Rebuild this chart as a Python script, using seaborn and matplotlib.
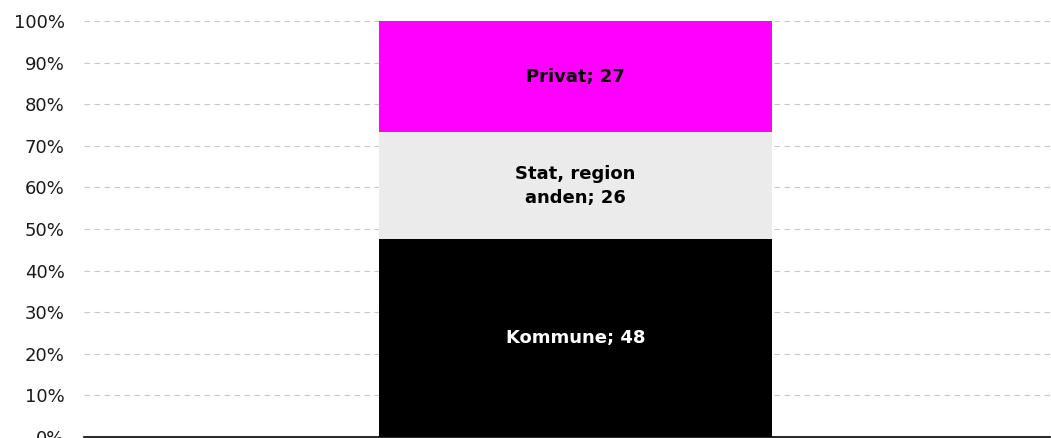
import numpy as np
import pandas as pd
import matplotlib
matplotlib.use('Agg')
import matplotlib.pyplot as plt
import seaborn as sns

# Data
categories = ['Kommune', 'Stat, region\nanden', 'Privat']
values = [48, 26, 27]
colors = ['#000000', '#ebebeb', '#ff00ff']
text_colors = ['white', 'black', 'black']

sns.set_theme(style='white')
plt.rcParams['font.family'] = ['DejaVu Sans']

shares = np.array(values) / sum(values) * 100
tops = np.cumsum(shares)
bottoms = tops - shares

fig = plt.figure(figsize=(10.51, 4.38), dpi=100)
ax = fig.add_axes([84 / 1051, 1 / 438, 966 / 1051, 416 / 438])

# Stacked bar: draw each segment with its bottom offset
for cat, share, bottom, color in zip(categories, shares, bottoms, colors):
    df = pd.DataFrame({'x': [''], 'y': [share]})
    sns.barplot(data=df, x='x', y='y', bottom=bottom, color=color,
                width=0.407, saturation=1, linewidth=0, ax=ax, zorder=3)

for cat, val, share, bottom, tc in zip(categories, values, shares, bottoms, text_colors):
    ax.text(0, bottom + share / 2, f'{cat}; {val}', ha='center', va='center',
            fontsize=13, fontweight='bold', color=tc, zorder=4, linespacing=1.45)

ax.set_xlim(-0.5088, 0.4912)
ax.set_ylim(0, 100)
ax.set_yticks(np.arange(0, 101, 10))
ax.set_yticklabels([f'{t}%' for t in range(0, 101, 10)], fontsize=13, color='#1a1a1a')
ax.set_xticks([])
ax.set_xlabel('')
ax.set_ylabel('')
ax.yaxis.grid(True, linestyle=(0, (5, 4)), color='#c8c8c8', linewidth=0.8, zorder=0)
ax.set_axisbelow(True)
ax.tick_params(axis='y', length=0, pad=14)
for side in ['left', 'right', 'top']:
    ax.spines[side].set_visible(False)
ax.spines['bottom'].set_color('#000000')
ax.spines['bottom'].set_linewidth(1.2)

fig.savefig('out.png', dpi=100)
